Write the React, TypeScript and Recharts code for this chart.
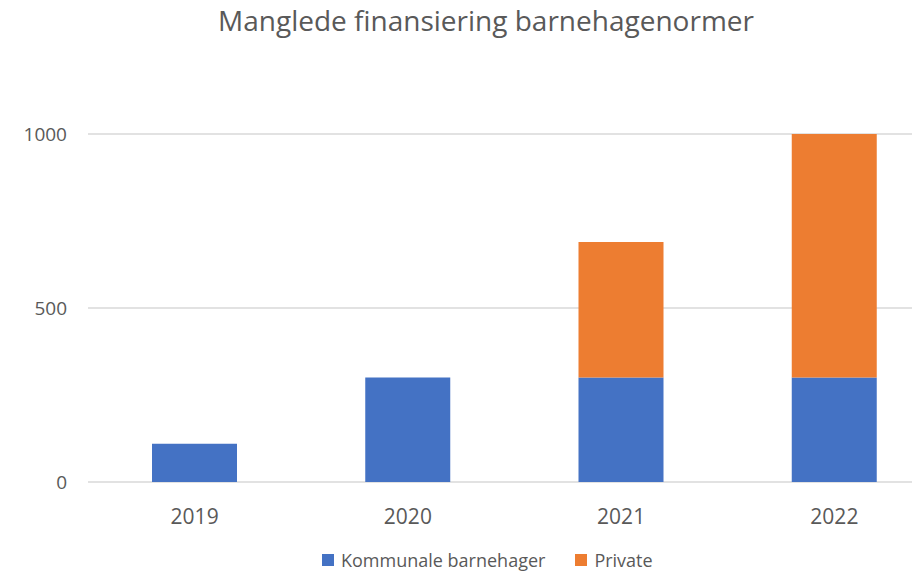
import React from 'react';
import { Bar, BarChart, CartesianGrid, Legend, XAxis, YAxis } from 'recharts';

const years = ['2019', '2020', '2021', '2022'];
const kommunale = [110, 300, 300, 300];
const privateUnits = [0, 0, 390, 700];
const yTicks = [0, 500, 1000];

const data = years.map((year, i) => ({
  year,
  kommunale: kommunale[i],
  private: privateUnits[i],
}));

const textColor = '#595959';
const font = '"Open Sans", sans-serif';

function LegendContent(props: any) {
  const items = props.payload ?? [];
  return (
    <div style={{ display: 'flex', alignItems: 'center', fontSize: 18, fontFamily: font, color: textColor }}>
      {items.map((item: any, i: number) => (
        <div key={item.value} style={{ display: 'flex', alignItems: 'center', marginLeft: i === 0 ? 0 : 30 }}>
          <span style={{ width: 12, height: 12, background: item.color, marginRight: 7, display: 'inline-block' }} />
          <span>{item.value}</span>
        </div>
      ))}
    </div>
  );
}

export default function App() {
  return (
    <div
      style={{
        position: 'absolute',
        top: 0,
        left: 0,
        width: 912,
        height: 571,
        overflow: 'hidden',
        background: '#fff',
        fontFamily: font,
      }}
    >
      <div
        style={{
          position: 'absolute',
          top: 1,
          left: 0,
          width: 972,
          textAlign: 'center',
          fontSize: 28,
          color: textColor,
        }}
      >
        Manglede finansiering barnehagenormer
      </div>
      <BarChart
        width={941}
        height={571}
        data={data}
        margin={{ top: 134, right: 0, bottom: 0, left: 0 }}
        barSize={85}
      >
        <CartesianGrid stroke="#d9d9d9" strokeWidth={1.5} vertical={false} />
        <XAxis
          dataKey="year"
          axisLine={false}
          tickLine={false}
          height={65}
          tickMargin={21}
          tick={{ fontSize: 21, fill: textColor, fontFamily: font }}
        />
        <YAxis
          width={88}
          domain={[0, 1000]}
          ticks={yTicks}
          axisLine={false}
          tickLine={false}
          tickMargin={15}
          tick={{ fontSize: 19, fill: textColor, fontFamily: font }}
        />
        <Legend
          content={<LegendContent />}
          wrapperStyle={{ top: 548, left: 322, width: 'auto' }}
        />
        <Bar
          dataKey="kommunale"
          name="Kommunale barnehager"
          stackId="a"
          fill="#4472C4"
          isAnimationActive={false}
        />
        <Bar
          dataKey="private"
          name="Private"
          stackId="a"
          fill="#ED7D31"
          isAnimationActive={false}
        />
      </BarChart>
    </div>
  );
}
